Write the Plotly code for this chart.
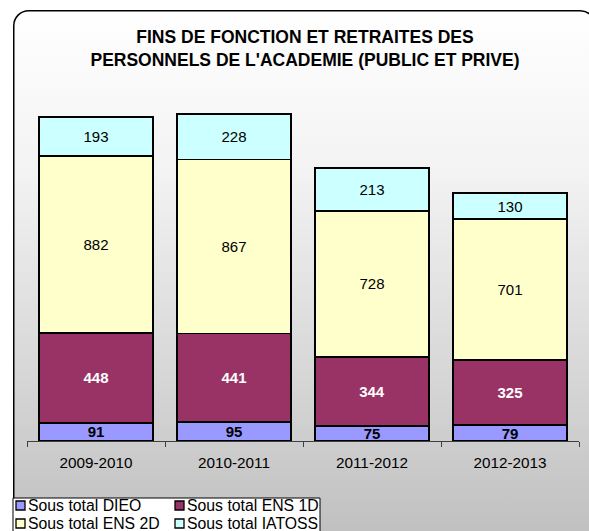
import base64
import plotly.graph_objects as go

# Academic years and staff categories
years = ["2009-2010", "2010-2011", "2011-2012", "2012-2013"]
dieo = [91, 95, 75, 79]
ens_1d = [448, 441, 344, 325]
ens_2d = [882, 867, 728, 701]
iatoss = [193, 228, 213, 130]

W, H = 589, 531
L, R, T, B = 27, 10, 100, 90
PW, PH = W - L - R, H - T - B
Y_MAX = 1700


def px_x(px):
    return (px - L) / PW


def px_y(py):
    return (H - B - py) / PH


FONT = "Liberation Sans, Arial, sans-serif"
FS = 15

series = [
    ("Sous total DIEO", dieo, "#9999ff", dict(color="black", weight="bold")),
    ("Sous total ENS 1D", ens_1d, "#993366", dict(color="white", weight="bold")),
    ("Sous total ENS 2D", ens_2d, "#ffffcc", dict(color="black")),
    ("Sous total IATOSS", iatoss, "#ccffff", dict(color="black")),
]

fig = go.Figure()
for name, vals, color, tfont in series:
    fig.add_trace(go.Bar(
        x=years, y=vals, name=name,
        marker=dict(color=color, line=dict(color="black", width=1.8)),
        text=[str(v) for v in vals], textposition="inside",
        insidetextanchor="middle", textangle=0,
        textfont=dict(family=FONT, size=FS, **tfont),
        showlegend=False,
    ))

# Chart panel: rounded frame with a vertical white-to-grey gradient
bx0, by0, bx1, by1 = 13, 10, 596, 537
bw, bh = bx1 - bx0, by1 - by0
svg = f"""<svg xmlns="http://www.w3.org/2000/svg" width="{bw}" height="{bh}" viewBox="0 0 {bw} {bh}" preserveAspectRatio="none">
<defs><linearGradient id="g" x1="0" y1="0" x2="0" y2="1">
<stop offset="0" stop-color="#ffffff"/><stop offset="0.3" stop-color="#f3f3f3"/>
<stop offset="0.7" stop-color="#d6d6d6"/><stop offset="1" stop-color="#c0c0c0"/></linearGradient></defs>
<rect x="0.75" y="0.75" width="{bw - 1.5}" height="{bh - 1.5}" rx="15" ry="15" fill="url(#g)" stroke="black" stroke-width="1.5"/>
</svg>"""
src = "data:image/svg+xml;base64," + base64.b64encode(svg.encode()).decode()
fig.add_layout_image(dict(
    source=src, xref="paper", yref="paper",
    x=px_x(bx0), y=px_y(by0), sizex=bw / PW, sizey=bh / PH,
    xanchor="left", yanchor="top", sizing="stretch", layer="below",
))

# Legend: white box with two columns of swatches and labels
fig.add_shape(type="rect", xref="paper", yref="paper",
              x0=px_x(13), x1=px_x(320), y0=px_y(498), y1=px_y(545),
              fillcolor="white", line=dict(color="black", width=1), layer="above")
col_x = [16, 175]
row_y = [505.5, 523.5]
for i, (name, _, color, _) in enumerate(series):
    cx, cy = col_x[i % 2], row_y[i // 2]
    fig.add_shape(type="rect", xref="paper", yref="paper",
                  x0=px_x(cx), x1=px_x(cx + 9), y0=px_y(cy - 4.5), y1=px_y(cy + 4.5),
                  fillcolor=color, line=dict(color="black", width=1.3), layer="above")
    fig.add_annotation(text=name, xref="paper", yref="paper",
                       x=px_x(cx + 10), y=px_y(cy), xanchor="left", yanchor="middle",
                       showarrow=False, font=dict(family=FONT, size=15.8, color="black"))

fig.update_layout(
    width=W, height=H,
    margin=dict(l=L, r=R, t=T, b=B, autoexpand=False),
    paper_bgcolor="white",
    plot_bgcolor="rgba(0,0,0,0)",
    barmode="stack", bargap=0.17,
    showlegend=False,
    uniformtext=dict(minsize=FS, mode="show"),
    title=dict(
        text="FINS DE FONCTION ET RETRAITES DES<br>PERSONNELS DE L'ACADEMIE (PUBLIC ET PRIVE)",
        font=dict(family=FONT, size=17.5, color="black", weight="bold"),
        x=305 / W, xanchor="center", xref="container",
        y=1 - 43 / H, yanchor="top", yref="container",
    ),
    xaxis=dict(
        showline=True, linecolor="#404040", linewidth=1,
        ticks="outside", tickson="boundaries", ticklen=5, tickcolor="#404040",
        tickfont=dict(family=FONT, size=15.3, color="black"),
        ticklabelstandoff=8, showgrid=False,
    ),
    yaxis=dict(range=[0, Y_MAX], visible=False, showgrid=False),
)

fig.write_html("out.html")
